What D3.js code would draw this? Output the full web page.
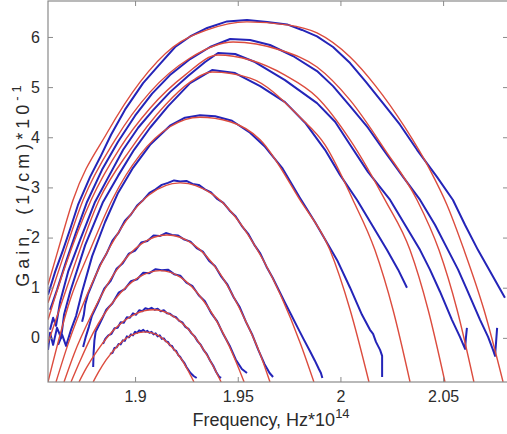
<!DOCTYPE html>
<html>
<head>
<meta charset="utf-8">
<script src="https://cdnjs.cloudflare.com/ajax/libs/d3/7.8.5/d3.min.js"></script>
<style>
    body { margin: 0; background: #fff; }
    svg { display: block; font-family: Arial, "Liberation Sans", sans-serif; }
</style>
</head>
<body>
<div id="chart"></div>
<script>
// axis ticks
const xTicks = [1.9, 1.95, 2, 2.05];
const yTicks = [0, 1, 2, 3, 4, 5, 6];

// fitted gain curves (red), [frequency, gain]
const fit1 = [[1.8576,1.06],[1.8625,1.75],[1.8698,2.75],[1.8864,4.09],[1.9024,5.10],[1.9185,5.80],[1.9351,6.14],[1.9545,6.30],[1.9740,6.24],[1.9886,6.08],[2.0047,5.60],[2.0168,5.04],[2.0315,4.19],[2.0436,3.35],[2.0519,2.65],[2.0602,1.75],[2.0699,0.56],[2.0792,-0.88]];
const fit2 = [[1.8576,0.70],[1.8645,1.55],[1.8747,2.75],[1.8903,3.95],[1.9073,4.90],[1.9268,5.58],[1.9477,5.90],[1.9706,5.74],[1.9886,5.40],[2.0047,4.74],[2.0217,3.75],[2.0373,2.75],[2.0480,1.75],[2.0568,0.56],[2.0650,-0.88]];
const fit3 = [[1.8576,0.36],[1.8654,1.36],[1.8786,2.75],[1.8927,3.79],[1.9073,4.58],[1.9243,5.24],[1.9404,5.64],[1.9560,5.54],[1.9730,5.24],[1.9886,4.80],[2.0047,3.95],[2.0217,2.75],[2.0339,1.75],[2.0427,0.56],[2.0509,-0.88]];
const fit4 = [[1.8576,-0.10],[1.8664,0.96],[1.8825,2.75],[1.8976,3.75],[1.9146,4.64],[1.9268,5.10],[1.9375,5.30],[1.9560,5.18],[1.9803,4.40],[1.9925,3.85],[2.0061,2.75],[2.0168,1.75],[2.0256,0.56],[2.0339,-0.88]];
const fit5 = [[1.8576,-0.88],[1.8684,0.76],[1.8781,1.75],[1.8888,2.75],[1.9024,3.65],[1.9170,4.21],[1.9316,4.40],[1.9463,4.31],[1.9609,3.95],[1.9803,2.75],[1.9949,1.75],[2.0047,0.56],[2.0139,-0.88]];
const fit6 = [[1.8615,-0.88],[1.8674,-0.12],[1.8766,0.86],[1.8917,2.09],[1.9068,2.85],[1.9219,3.09],[1.9382,2.85],[1.9545,2.09],[1.9708,0.86],[1.9806,-0.12],[1.9871,-0.88]];
const fit7 = [[1.8654,-0.88],[1.8703,-0.32],[1.8781,0.40],[1.8905,1.32],[1.9029,1.87],[1.9156,2.05],[1.9282,1.87],[1.9407,1.32],[1.9531,0.40],[1.9609,-0.32],[1.9657,-0.88]];
const fit8 = [[1.8688,-0.88],[1.8732,-0.46],[1.8796,0.10],[1.8905,0.78],[1.9015,1.20],[1.9122,1.34],[1.9224,1.20],[1.9326,0.78],[1.9428,0.10],[1.9490,-0.46],[1.9531,-0.88]];
const fit9 = [[1.8727,-0.88],[1.8763,-0.60],[1.8817,-0.25],[1.8907,0.20],[1.8998,0.47],[1.9088,0.56],[1.9170,0.47],[1.9253,0.20],[1.9336,-0.25],[1.9385,-0.60],[1.9419,-0.88]];
const fit10 = [[1.8796,-0.88],[1.8821,-0.69],[1.8859,-0.44],[1.8922,-0.13],[1.8985,0.06],[1.9049,0.12],[1.9107,0.06],[1.9168,-0.13],[1.9228,-0.44],[1.9263,-0.69],[1.9287,-0.88]];

// measured gain spectra (blue), [frequency, gain]
const meas1 = [[1.8576,0.86],[1.8611,1.32],[1.8649,1.75],[1.8684,2.17],[1.8722,2.65],[1.8781,3.21],[1.8830,3.60],[1.8883,4.05],[1.8951,4.55],[1.9039,5.08],[1.9112,5.42],[1.9195,5.80],[1.9268,6.01],[1.9351,6.18],[1.9448,6.31],[1.9545,6.34],[1.9643,6.30],[1.9740,6.25],[1.9813,6.14],[1.9886,6.01],[1.9964,5.80],[2.0047,5.48],[2.0125,5.10],[2.0207,4.68],[2.0290,4.25],[2.0373,3.75],[2.0470,3.21],[2.0548,2.75],[2.0607,2.25],[2.0670,1.75],[2.0738,1.26],[2.0801,0.80]];
const meas2 = [[1.8586,0.56],[1.8620,0.96],[1.8664,1.52],[1.8713,2.11],[1.8766,2.71],[1.8839,3.35],[1.8917,3.91],[1.9000,4.43],[1.9083,4.87],[1.9170,5.24],[1.9268,5.56],[1.9365,5.80],[1.9463,5.96],[1.9560,5.94],[1.9657,5.84],[1.9769,5.62],[1.9886,5.32],[1.9964,5.02],[2.0047,4.62],[2.0134,4.19],[2.0217,3.71],[2.0305,3.21],[2.0388,2.75],[2.0461,2.25],[2.0524,1.75],[2.0573,1.36],[2.0616,0.96],[2.0680,0.36],[2.0719,0.02],[2.0743,-0.24],[2.0753,-0.36],[2.0758,-0.08],[2.0763,0.20]];
const meas3 = [[1.8586,0.16],[1.8601,0.40],[1.8615,0.24],[1.8635,0.72],[1.8674,1.32],[1.8732,1.95],[1.8805,2.71],[1.8868,3.19],[1.8942,3.75],[1.9015,4.19],[1.9088,4.54],[1.9170,4.90],[1.9258,5.22],[1.9341,5.50],[1.9404,5.68],[1.9487,5.66],[1.9584,5.50],[1.9730,5.14],[1.9886,4.68],[1.9974,4.31],[2.0047,3.85],[2.0134,3.31],[2.0242,2.75],[2.0315,2.25],[2.0388,1.75],[2.0436,1.36],[2.0485,0.92],[2.0543,0.36],[2.0582,0.02],[2.0607,-0.22],[2.0611,0.00],[2.0616,0.20]];
const meas4 = [[1.8576,-0.24],[1.8586,0.10],[1.8601,-0.14],[1.8620,0.20],[1.8640,0.00],[1.8654,0.46],[1.8684,0.92],[1.8757,1.85],[1.8844,2.71],[1.8917,3.23],[1.8995,3.75],[1.9073,4.19],[1.9161,4.62],[1.9268,5.08],[1.9375,5.34],[1.9487,5.28],[1.9609,5.02],[1.9730,4.70],[1.9828,4.29],[1.9925,3.75],[1.9998,3.25],[2.0081,2.75],[2.0154,2.25],[2.0227,1.75],[2.0281,1.36],[2.0324,1.00]];
const meas5 = [[1.8625,-0.14],[1.8645,0.06],[1.8664,-0.16],[1.8688,0.16],[1.8713,0.44],[1.8742,0.92],[1.8791,1.63],[1.8854,2.31],[1.8917,2.89],[1.8990,3.39],[1.9073,3.85],[1.9170,4.23],[1.9243,4.39],[1.9316,4.44],[1.9390,4.42],[1.9472,4.33],[1.9560,4.09],[1.9633,3.81],[1.9716,3.39],[1.9803,2.79],[1.9876,2.31],[1.9984,1.55],[2.0047,1.00],[2.0105,0.46],[2.0144,0.16],[2.0159,0.08],[2.0173,-0.08],[2.0193,-0.24],[2.0203,-0.36],[2.0203,-0.78]];
const meas6 = [[1.8742,0.32],[1.8750,0.45],[1.8757,0.66],[1.8770,0.86],[1.8800,1.16],[1.8830,1.46],[1.8860,1.67],[1.8890,1.94],[1.8920,2.10],[1.8950,2.33],[1.8980,2.46],[1.9010,2.64],[1.9040,2.75],[1.9070,2.89],[1.9100,2.96],[1.9130,3.05],[1.9160,3.09],[1.9190,3.14],[1.9220,3.12],[1.9250,3.13],[1.9280,3.07],[1.9310,3.05],[1.9340,2.96],[1.9370,2.90],[1.9400,2.77],[1.9430,2.69],[1.9460,2.54],[1.9490,2.42],[1.9520,2.23],[1.9550,2.08],[1.9580,1.86],[1.9610,1.68],[1.9640,1.42],[1.9670,1.20],[1.9700,0.95],[1.9730,0.70],[1.9760,0.46],[1.9790,0.22],[1.9820,-0.02],[1.9850,-0.25],[1.9875,-0.45],[1.9895,-0.62],[1.9905,-0.70],[1.9912,-0.80]];
const meas7 = [[1.8747,-0.18],[1.8760,0.02],[1.8775,0.22],[1.8790,0.44],[1.8820,0.70],[1.8850,0.98],[1.8880,1.13],[1.8910,1.38],[1.8940,1.49],[1.8970,1.68],[1.9000,1.74],[1.9030,1.90],[1.9060,1.93],[1.9090,2.04],[1.9120,2.03],[1.9150,2.09],[1.9180,2.05],[1.9210,2.04],[1.9240,1.96],[1.9270,1.92],[1.9300,1.79],[1.9330,1.72],[1.9360,1.54],[1.9390,1.43],[1.9420,1.22],[1.9450,1.06],[1.9480,0.81],[1.9510,0.61],[1.9540,0.32],[1.9570,0.07],[1.9600,-0.24],[1.9630,-0.52],[1.9655,-0.70],[1.9672,-0.78]];
const meas8 = [[1.8796,-0.58],[1.8798,-0.30],[1.8802,-0.05],[1.8808,0.12],[1.8830,0.30],[1.8860,0.56],[1.8890,0.69],[1.8920,0.90],[1.8950,0.97],[1.8980,1.13],[1.9010,1.17],[1.9040,1.30],[1.9070,1.29],[1.9100,1.37],[1.9130,1.35],[1.9160,1.36],[1.9190,1.27],[1.9220,1.24],[1.9250,1.10],[1.9280,1.03],[1.9310,0.85],[1.9340,0.73],[1.9370,0.50],[1.9400,0.33],[1.9430,0.07],[1.9460,-0.15],[1.9490,-0.43],[1.9520,-0.62],[1.9545,-0.70]];
const meas9 = [[1.8844,-0.12],[1.8855,-0.02],[1.8870,0.05],[1.8885,0.08],[1.8900,0.19],[1.8915,0.20],[1.8930,0.31],[1.8945,0.30],[1.8960,0.41],[1.8975,0.40],[1.8990,0.49],[1.9005,0.46],[1.9020,0.55],[1.9035,0.53],[1.9050,0.59],[1.9065,0.57],[1.9080,0.60],[1.9095,0.56],[1.9110,0.58],[1.9125,0.53],[1.9140,0.55],[1.9155,0.49],[1.9170,0.48],[1.9185,0.43],[1.9200,0.41],[1.9215,0.34],[1.9230,0.31],[1.9245,0.22],[1.9260,0.18],[1.9275,0.09],[1.9290,0.03],[1.9305,-0.07],[1.9320,-0.14],[1.9335,-0.25],[1.9350,-0.33],[1.9365,-0.45],[1.9380,-0.55],[1.9395,-0.68],[1.9410,-0.78],[1.9419,-0.80]];
const meas10 = [[1.8878,-0.32],[1.8890,-0.30],[1.8900,-0.20],[1.8910,-0.19],[1.8920,-0.12],[1.8930,-0.13],[1.8940,-0.05],[1.8950,-0.06],[1.8960,0.03],[1.8970,0.01],[1.8980,0.07],[1.8990,0.05],[1.9000,0.12],[1.9010,0.10],[1.9020,0.15],[1.9030,0.13],[1.9040,0.16],[1.9050,0.12],[1.9060,0.14],[1.9070,0.10],[1.9080,0.12],[1.9090,0.07],[1.9100,0.09],[1.9110,0.03],[1.9120,0.05],[1.9130,-0.02],[1.9140,-0.01],[1.9150,-0.07],[1.9160,-0.08],[1.9170,-0.15],[1.9180,-0.16],[1.9190,-0.24],[1.9200,-0.26],[1.9210,-0.34],[1.9220,-0.38],[1.9230,-0.45],[1.9240,-0.50],[1.9250,-0.58],[1.9260,-0.64],[1.9270,-0.70],[1.9285,-0.76],[1.9300,-0.80]];

const fits = [fit1, fit2, fit3, fit4, fit5, fit6, fit7, fit8, fit9, fit10];
const measured = [meas1, meas2, meas3, meas4, meas5, meas6, meas7, meas8, meas9, meas10];

const W = 507, H = 434;
const plot = { left: 48, top: 1, right: 508, bottom: 382 };

const svg = d3.select("#chart").append("svg")
    .attr("width", W)
    .attr("height", H);

const x = d3.scaleLinear()
    .domain([1.8576, 2.0816])
    .range([plot.left, plot.right]);

const y = d3.scaleLinear()
    .domain([-0.88, 6.717])
    .range([plot.bottom, plot.top]);

svg.append("clipPath").attr("id", "clip")
    .append("rect")
    .attr("x", plot.left).attr("y", plot.top)
    .attr("width", plot.right - plot.left)
    .attr("height", plot.bottom - plot.top);

const g = svg.append("g").attr("clip-path", "url(#clip)");

const measLine = d3.line()
    .x(d => x(d[0]))
    .y(d => y(d[1]));

const fitLine = d3.line()
    .x(d => x(d[0]))
    .y(d => y(d[1]))
    .curve(d3.curveMonotoneX);

// blue data first, red fits on top
g.selectAll("path.meas")
    .data(measured)
    .join("path")
    .attr("class", "meas")
    .attr("d", measLine)
    .attr("fill", "none")
    .attr("stroke", "#2424b8")
    .attr("stroke-width", 2)
    .attr("stroke-linejoin", "round");

g.selectAll("path.fit")
    .data(fits)
    .join("path")
    .attr("class", "fit")
    .attr("d", fitLine)
    .attr("fill", "none")
    .attr("stroke", "#dc4c3e")
    .attr("stroke-width", 1.4);

// matlab style box with inward ticks on all sides
const axisColor = "#8a8a8a";
const tickLen = 5;

svg.append("rect")
    .attr("x", plot.left).attr("y", plot.top)
    .attr("width", plot.right - plot.left)
    .attr("height", plot.bottom - plot.top)
    .attr("fill", "none")
    .attr("stroke", axisColor)
    .attr("stroke-width", 1.2);

const xAxisB = d3.axisBottom(x).tickValues(xTicks).tickSizeInner(-tickLen).tickSizeOuter(0).tickPadding(9).tickFormat(d => String(d));
const xAxisT = d3.axisTop(x).tickValues(xTicks).tickSizeInner(-tickLen).tickSizeOuter(0).tickFormat("");
const yAxisL = d3.axisLeft(y).tickValues(yTicks).tickSizeInner(-tickLen).tickSizeOuter(0).tickPadding(8);
const yAxisR = d3.axisRight(y).tickValues(yTicks).tickSizeInner(-tickLen).tickSizeOuter(0).tickFormat("");

function styleAxis(sel) {
    sel.select(".domain").remove();
    sel.selectAll(".tick line").attr("stroke", axisColor).attr("stroke-width", 1);
    sel.selectAll(".tick text")
        .attr("fill", "#2b2b2b")
        .style("font-size", "16px")
        .style("font-family", "Arial, 'Liberation Sans', sans-serif");
}

svg.append("g").attr("transform", `translate(0,${plot.bottom})`).call(xAxisB).call(styleAxis);
svg.append("g").attr("transform", `translate(0,${plot.top})`).call(xAxisT).call(styleAxis);
svg.append("g").attr("transform", `translate(${plot.left},0)`).call(yAxisL).call(styleAxis);
svg.append("g").attr("transform", `translate(${plot.right},0)`).call(yAxisR).call(styleAxis);

// axis labels
const xLabel = svg.append("text")
    .attr("x", 271)
    .attr("y", 426)
    .attr("text-anchor", "middle")
    .attr("fill", "#2b2b2b")
    .style("font-size", "18px");
xLabel.append("tspan").text("Frequency, Hz*10");
xLabel.append("tspan").attr("dy", -8).style("font-size", "13px").text("14");

const yLabel = svg.append("text")
    .attr("transform", "translate(29,184) rotate(-90)")
    .attr("text-anchor", "middle")
    .attr("fill", "#2b2b2b")
    .style("font-size", "18px")
    .style("letter-spacing", "4px");
yLabel.append("tspan").text("Gain, (1/cm)*10");
yLabel.append("tspan").attr("dy", -8).style("font-size", "13px").text("-1");
</script>
</body>
</html>
